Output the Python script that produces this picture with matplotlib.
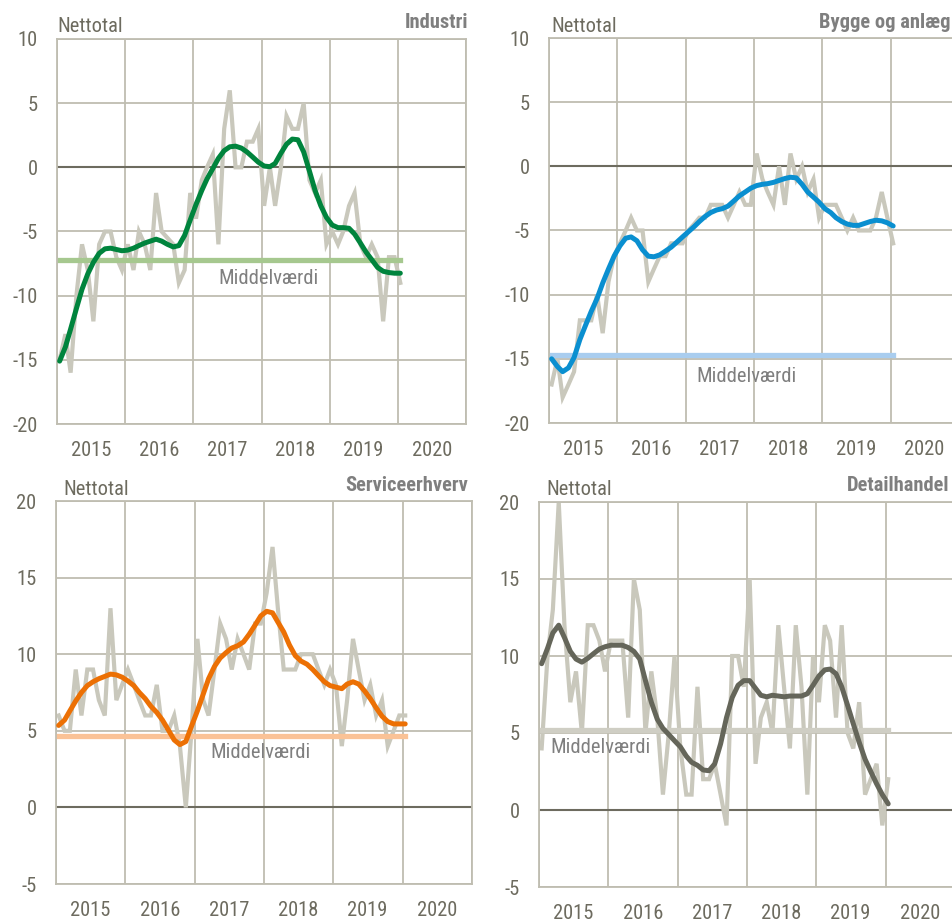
import matplotlib
matplotlib.use("Agg")
import matplotlib.pyplot as plt
import matplotlib.dates as mdates
import matplotlib.font_manager as fm
from matplotlib.textpath import TextPath
import pandas as pd

# monthly observations Jan 2015 - Jan 2020 (plotted mid-month)
months = pd.date_range("2015-01-01", periods=61, freq="MS") + pd.Timedelta(days=14)

industri = [-15, -13, -16, -10, -6, -8, -12, -6, -5, -5, -7, -8, -6, -8, -5, -6, -8, -2, -5, -5.5,
            -6, -9, -8, -2, -4, -1, 0, 1, -6, 3, 6, 0, 0, 2, 2, 3, -3, 0, -3, 0,
            4, 3, 3, 5, -1, -2, -1, -6, -5, -6, -5, -3, -2, -6, -7, -6, -7, -12, -7, -7, -9]
industri_trend = [-15.1, -14.0, -12.6, -11.0, -9.5, -8.3, -7.4, -6.7, -6.35, -6.3, -6.4, -6.5, -6.45, -6.3,
                  -6.1, -5.9, -5.75, -5.6, -5.75, -6.0, -6.2, -6.1, -5.3, -4.1, -2.9, -1.8, -0.9, -0.1, 0.7,
                  1.3, 1.6, 1.65, 1.5, 1.2, 0.8, 0.4, 0.1, 0.05, 0.3, 1.1, 1.8, 2.2, 2.15, 1.2, -0.3, -1.8,
                  -3.0, -3.9, -4.5, -4.7, -4.7, -4.75, -5.2, -5.9, -6.6, -7.2, -7.8, -8.1, -8.2, -8.25, -8.25]
industri_mean = -7.2

bygge = [-17, -15, -18, -17, -16, -12, -12, -12, -10, -13, -9, -7, -6, -5, -4, -5, -5, -9, -8, -7,
         -7, -6, -6, -6, -5, -4.5, -4, -4, -3, -3, -3, -4, -3, -2, -3, -3, 1, -1, -2, -3,
         0, -3, 1, -1, 0, -2, -1, -4, -3, -3, -3, -4, -5, -4, -5, -5, -5, -4, -2, -4, -6]
bygge_trend = [-15.0, -15.6, -16.0, -15.7, -14.9, -13.5, -12.4, -11.3, -10.3, -9.1, -8.0, -7.0, -6.2, -5.6,
               -5.5, -5.8, -6.5, -7.0, -7.05, -6.9, -6.6, -6.3, -5.9, -5.5, -5.1, -4.7, -4.3, -3.9, -3.6,
               -3.4, -3.3, -3.1, -2.7, -2.3, -2.0, -1.7, -1.5, -1.4, -1.35, -1.25, -1.1, -0.95, -0.85,
               -0.9, -1.4, -2.0, -2.4, -2.8, -3.3, -3.6, -4.0, -4.3, -4.5, -4.6, -4.6, -4.45, -4.3,
               -4.2, -4.25, -4.4, -4.65]
bygge_mean = -14.7

service = [6, 5, 5, 9, 6, 9, 9, 7, 6, 13, 7, 8, 9, 8, 7, 6, 6, 8, 5, 5,
           6, 4, 0, 5, 11, 7, 6, 9, 12, 11, 9, 11, 10, 9, 12, 12, 14, 17, 13, 9,
           9, 9, 10, 10, 10, 9, 8, 9, 8, 4, 7, 11, 9, 7, 8, 6, 7, 4, 5, 6, 6]
service_trend = [5.35, 5.7, 6.3, 6.95, 7.5, 7.95, 8.2, 8.4, 8.55, 8.7, 8.65, 8.5, 8.25, 7.95, 7.5, 7.1,
                 6.6, 6.2, 5.7, 5.05, 4.4, 4.1, 4.3, 5.3, 6.3, 7.4, 8.4, 9.2, 9.75, 10.1, 10.4, 10.55,
                 10.8, 11.3, 11.9, 12.5, 12.8, 12.7, 12.1, 11.45, 10.6, 9.9, 9.55, 9.35, 9.0, 8.6, 8.2,
                 7.95, 7.85, 7.75, 8.05, 8.2, 8.05, 7.6, 7.1, 6.5, 5.95, 5.6, 5.45, 5.45, 5.45]
service_mean = 4.63

detail = [4, 10, 13, 20, 12, 7, 9, 5, 12, 12, 11, 9, 11, 11, 11, 6, 15, 13, 5, 9,
          6, 1, 5, 10, 4, 1, 1, 8, 2, 2, 3, 1, -1, 10, 10, 8, 15, 3, 6, 7,
          5, 12, 8, 4, 12, 8, 1, 10, 7, 12, 11, 6, 12, 5, 4, 7, 1, 2, 3, -1, 2]
detail_trend = [9.5, 10.5, 11.5, 12.0, 11.2, 10.3, 9.8, 9.6, 9.85, 10.15, 10.45, 10.6, 10.7, 10.7, 10.7,
                10.55, 10.3, 9.8, 8.4, 7.0, 5.9, 5.3, 4.9, 4.5, 4.1, 3.5, 3.1, 2.9, 2.6, 2.55, 3.0,
                4.3, 6.0, 7.3, 8.1, 8.4, 8.4, 7.9, 7.45, 7.35, 7.45, 7.4, 7.35, 7.4, 7.4, 7.4, 7.55,
                8.1, 8.7, 9.1, 9.15, 8.85, 8.0, 6.8, 5.6, 4.4, 3.3, 2.5, 1.7, 1.0, 0.4]
detail_mean = 5.17

names = ["Industri", "Bygge og anlæg", "Serviceerhverv", "Detailhandel"]

# the original uses a narrow sans; take a condensed face if one is installed
prefs = ["Liberation Sans Narrow", "Arial Narrow", "Roboto Condensed", "Open Sans Condensed",
         "Noto Sans Condensed", "Roboto", "Open Sans", "Noto Sans", "DejaVu Sans Condensed", "DejaVu Sans"]
cond = {}
for f in fm.fontManager.ttflist:
    if "Narrow" in f.name or "Condensed" in f.name or str(f.stretch) in ("condensed", "semi-condensed"):
        cond.setdefault(f.name, f.stretch)
family = "Liberation Sans"
for p in prefs:
    if p in cond:
        family = p
        if str(cond[p]) in ("condensed", "semi-condensed"):
            plt.rcParams["font.stretch"] = cond[p]
        break
plt.rcParams["font.family"] = [family, "DejaVu Sans"]
plt.rcParams["axes.unicode_minus"] = False

# size so that the year labels come out about as wide as in the original
w = TextPath((0, 0), "2015", size=15, prop=fm.FontProperties(family=[family, "DejaVu Sans"])).get_extents().width
FS = min(15, 0.5 * (15 + 15 * 27.4 / w))

GREY = "#c9c8bc"
GRID = "#bfbdb1"
ZERO = "#6d6b5f"
TICK = "#6d6b5f"
TXT = "#7f7f7f"

W, H = 952, 921
fig = plt.figure(figsize=(W / 100, H / 100), dpi=100)


def px_axes(left, top, width, height):
    return fig.add_axes([left / W, 1 - (top + height) / H, width / W, height / H])


def fig_text(x, y, s, **kw):
    fig.text(x / W, 1 - y / H, s, fontsize=FS, va="center", **kw)


panels = [
    # data, trend, mean, trend colour, mean colour, ylim, yticks, axes box
    (industri, industri_trend, industri_mean, "#00843d", "#a6c88f", (-20, 10), range(-20, 11, 5), (57, 39, 409, 385)),
    (bygge, bygge_trend, bygge_mean, "#0a8fd0", "#a9cdef", (-20, 10), range(-20, 11, 5), (549, 38, 410, 385)),
    (service, service_trend, service_mean, "#ec7004", "#fac296", (-5, 20), range(-5, 21, 5), (56, 501, 416, 383)),
    (detail, detail_trend, detail_mean, "#65665a", "#cfcec4", (-5, 20), range(-5, 21, 5), (539, 502, 416, 385)),
]

for data, trend, mean, tcol, mcol, ylim, yticks, box in panels:
    ax = px_axes(*box)
    ax.set_xlim(pd.Timestamp("2015-01-01"), pd.Timestamp("2021-01-01"))
    ax.set_ylim(*ylim)
    ax.set_yticks(list(yticks))
    ax.xaxis.set_major_locator(mdates.YearLocator())
    ax.xaxis.set_major_formatter(plt.NullFormatter())
    ax.xaxis.set_minor_locator(mdates.MonthLocator(bymonth=7))
    ax.xaxis.set_minor_formatter(mdates.DateFormatter("%Y"))
    ax.grid(True, which="major", color=GRID, linewidth=1.3)
    ax.set_axisbelow(True)
    for sp in ax.spines.values():
        sp.set_color(GRID)
        sp.set_linewidth(1.3)
    ax.tick_params(which="both", length=0, labelsize=FS, labelcolor=TICK)
    ax.tick_params(axis="y", pad=14)
    ax.tick_params(axis="x", which="minor", pad=12)
    ax.axhline(0, color=ZERO, linewidth=1.5, zorder=1.5)
    ax.plot(months, data, color=GREY, linewidth=3, solid_joinstyle="miter", zorder=2)
    ax.plot([months[0], months[-1]], [mean, mean], color=mcol, linewidth=3.8, zorder=3)
    ax.plot(months, trend, color=tcol, linewidth=3.6, solid_capstyle="round", zorder=4)

# headers
fig_text(57, 27, "Nettotal", color=TICK, ha="left")
fig_text(551, 26, "Nettotal", color=TICK, ha="left")
fig_text(63, 489, "Nettotal", color=TICK, ha="left")
fig_text(546, 489, "Nettotal", color=TICK, ha="left")
fig_text(468, 23, names[0], color=TXT, ha="right", fontweight="bold")
fig_text(819, 23, names[1], color=TXT, ha="left", fontweight="bold")
fig_text(468, 485, names[2], color=TXT, ha="right", fontweight="bold")
fig_text(949, 485, names[3], color=TXT, ha="right", fontweight="bold")

# mean labels
fig_text(269, 278, "Middelværdi", color=TXT, ha="center")
fig_text(746, 376, "Middelværdi", color=TXT, ha="center")
fig_text(260, 752, "Middelværdi", color=TXT, ha="center")
fig_text(601, 747, "Middelværdi", color=TXT, ha="center")

fig.savefig("out.png", dpi=100)
